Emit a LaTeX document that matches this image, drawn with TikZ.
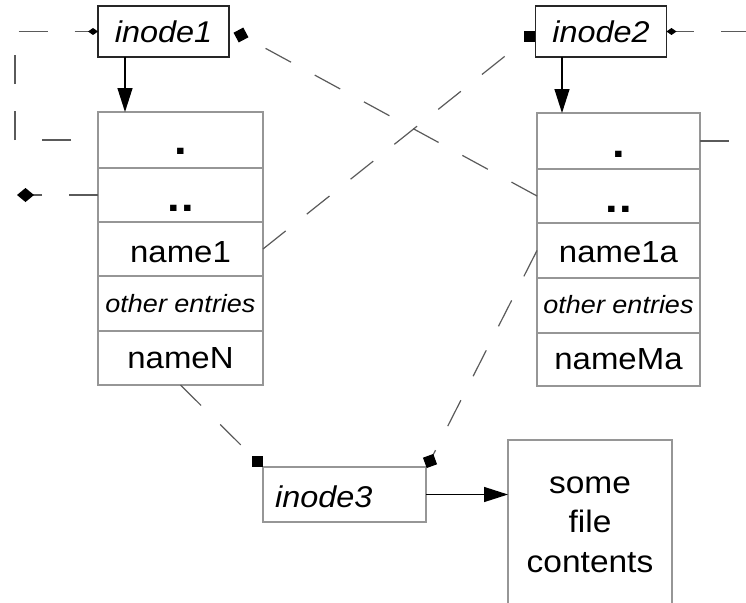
\documentclass[tikz,border=0pt]{standalone}
\usepackage{fontspec}
\setmainfont{Liberation Sans}[FakeStretch=1.08]
\usetikzlibrary{arrows.meta}
\definecolor{boxgray}{RGB}{150,150,150}
\definecolor{dashgray}{RGB}{90,90,90}
\tikzset{
  rowbox/.style={draw=boxgray, line width=1.3pt, minimum width=165pt, inner sep=0pt, outer sep=0pt},
  inodebox/.style={draw=black!85, line width=1.5pt, minimum width=131pt, minimum height=51pt, inner sep=0pt, outer sep=0pt, font=\fontsize{30}{30}\selectfont\itshape},
  graybox/.style={draw=boxgray, line width=1.3pt, inner sep=0pt, outer sep=0pt},
  lbl/.style={inner sep=0pt, anchor=base},
  namefont/.style={font=\fontsize{30.5}{30.5}\selectfont},
  otherfont/.style={font=\fontsize{25}{25}\selectfont\itshape},
  dotfont/.style={font=\fontsize{42}{42}\selectfont\bfseries},
  filefont/.style={font=\fontsize{31}{31}\selectfont},
  arr/.style={draw=black, line width=1.3pt, -{Triangle[length=24pt,width=15pt]}},
  dl/.style={draw=dashgray, line width=1.2pt, dash pattern=on 29pt off 27pt},
  sqmark/.style={fill=black, draw=none, minimum size=11pt, inner sep=0pt, outer sep=0pt},
  smalldia/.style={-{Diamond[length=10pt,width=7pt,color=black]}},
  bigdia/.style={-{Diamond[length=17pt,width=14pt,color=black]}},
}
\begin{document}
\begin{tikzpicture}[x=1pt,y=-1pt]
\useasboundingbox (0,0) rectangle (746,602);
\clip (0,0) rectangle (746,602);

% inodes
\node[inodebox] (i1) at (163.5,31.5) {inode1};
\node[inodebox] (i2) at (601,31.5) {inode2};

% left directory
\node[rowbox, minimum height=56pt] (l1) at (180.5,140) {};
\node[rowbox, minimum height=54pt] (l2) at (180.5,195) {};
\node[rowbox, minimum height=54pt] (l3) at (180.5,249) {};
\node[rowbox, minimum height=55pt] (l4) at (180.5,303.5) {};
\node[rowbox, minimum height=54pt] (l5) at (180.5,358) {};
\node[lbl, dotfont] at (180.5,154) {.};
\node[lbl, dotfont] at (180.5,211) {.\hspace{1pt}.};
\node[lbl, namefont] at (180.5,262) {name1};
\node[lbl, otherfont] at (180.5,312) {other entries};
\node[lbl, namefont] at (180.5,368) {nameN};

% right directory
\node[rowbox, minimum width=163pt, minimum height=56pt] (r1) at (618.5,141) {};
\node[rowbox, minimum width=163pt, minimum height=54pt] (r2) at (618.5,196) {};
\node[rowbox, minimum width=163pt, minimum height=55pt] (r3) at (618.5,250.5) {};
\node[rowbox, minimum width=163pt, minimum height=55pt] (r4) at (618.5,305.5) {};
\node[rowbox, minimum width=163pt, minimum height=53pt] (r5) at (618.5,359.5) {};
\node[lbl, dotfont] at (618.5,157) {.};
\node[lbl, dotfont] at (618.5,212) {.\hspace{1pt}.};
\node[lbl, namefont] at (618.5,262) {name1a};
\node[lbl, otherfont] at (618.5,313) {other entries};
\node[lbl, namefont] at (618.5,369) {nameMa};

% inode3 and file contents
\node[graybox, minimum width=163pt, minimum height=55pt] (i3) at (344.5,494.5) {};
\node[lbl, anchor=base west, font=\fontsize{30}{30}\selectfont\itshape] at (275,507) {inode3};
\node[graybox, minimum width=164pt, minimum height=170pt] (f) at (590,525) {};
\node[lbl, filefont] at (590,493) {some};
\node[lbl, filefont] at (590,532) {file};
\node[lbl, filefont] at (590,572) {contents};

% solid arrows
\coordinate (ax1) at (125,0);
\coordinate (ax2) at (562,0);
\draw[arr] (i1.south -| ax1) -- (l1.north -| ax1);
\draw[arr] (i2.south -| ax2) -- (r1.north -| ax2);
\draw[arr] (i3.east) -- (i3.east -| f.west);

% marker coordinates
\coordinate (sq1) at (241,35);
\coordinate (sq2) at (529,37);
\coordinate (sq3) at (257,461);
\coordinate (sq4) at (430,461);
\coordinate (pp) at (17,195);
\coordinate (ll) at (15,0);
\coordinate (rl) at (782,0);

% dashed pointers
\draw[dl, dash phase=29pt, smalldia] (l1.west) -- (l1.west -| ll) |- (i1.west);
\draw[dl, bigdia] (l2.west) -- (pp);
\draw[dl, smalldia] (r1.east) -- (r1.east -| rl) |- (i2.east);
\draw[dl] (r2.west) -- (sq1);
\draw[dl] (l3.east) -- (sq2);
\draw[dl] (l5.south) -- (sq3);
\draw[dl] (r3.west) -- (sq4);

\node[sqmark, rotate=28] at (sq1) {};
\node[sqmark] at (sq2) {};
\node[sqmark] at (sq3) {};
\node[sqmark, rotate=20] at (sq4) {};
\end{tikzpicture}
\end{document}
